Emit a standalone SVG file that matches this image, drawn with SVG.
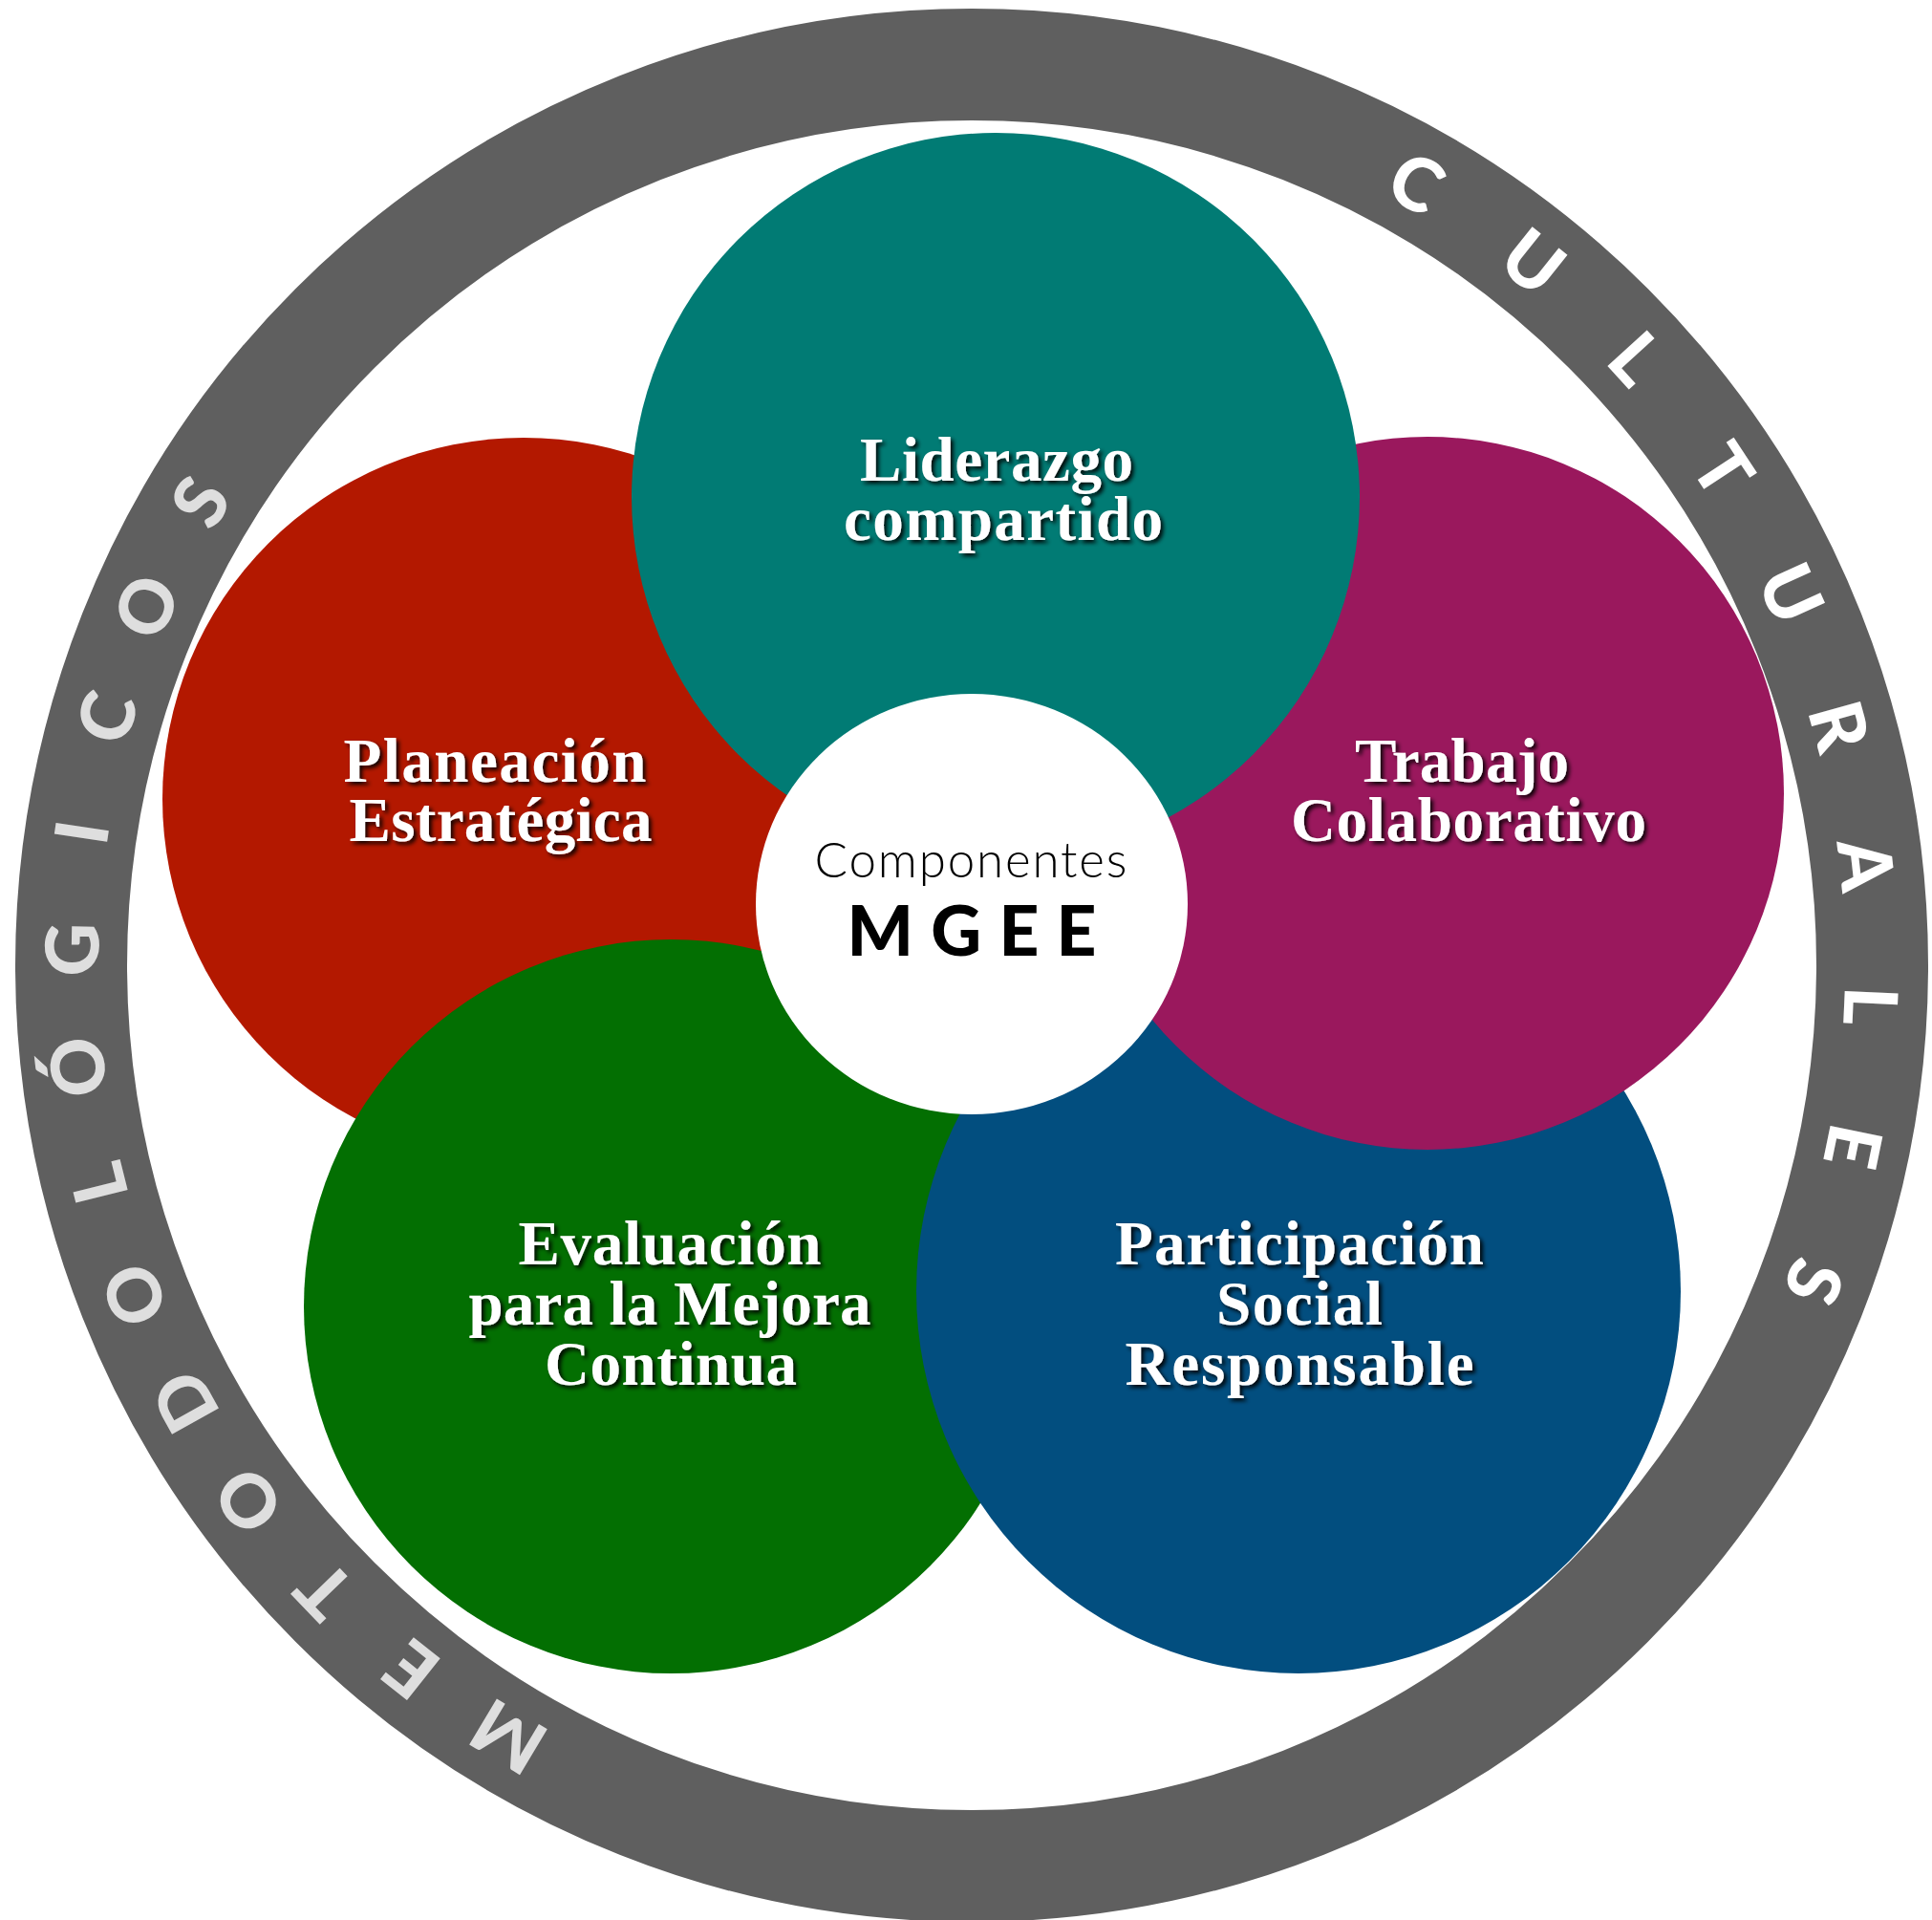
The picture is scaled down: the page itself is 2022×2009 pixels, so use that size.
<svg xmlns="http://www.w3.org/2000/svg" width="2022" height="2009" viewBox="0 0 2022 2009">
<defs>
<filter id="shadow" x="-20%" y="-40%" width="140%" height="180%">
<feDropShadow dx="3" dy="3" stdDeviation="2" flood-color="#000" flood-opacity="0.9"/>
</filter>
<style>
.lbl{font-family:"Liberation Serif","Times New Roman",serif;font-weight:bold;font-size:65px;fill:#fff;text-anchor:middle;filter:url(#shadow);}
.ringC{font-family:Lato,"Noto Sans",sans-serif;font-weight:900;font-size:77px;fill:#ffffff;text-anchor:middle;}
.ringM{font-family:Lato,"Noto Sans",sans-serif;font-weight:900;font-size:77px;fill:#dedede;text-anchor:middle;}
</style>
</defs>
<rect width="2022" height="2009" fill="#fff"/>
<g id="ring">
<circle cx="1017" cy="1010" r="942.5" fill="none" stroke="#5f5f5f" stroke-width="117"/>
<g class="ringC">
<text x="1017" y="96" transform="rotate(29.6 1017 1010)">C</text>
<text x="1017" y="96" transform="rotate(38.6 1017 1010)">U</text>
<text x="1017" y="96" transform="rotate(47.6 1017 1010)">L</text>
<text x="1017" y="96" transform="rotate(56.6 1017 1010)">T</text>
<text x="1017" y="96" transform="rotate(65.6 1017 1010)">U</text>
<text x="1017" y="96" transform="rotate(74.6 1017 1010)">R</text>
<text x="1017" y="96" transform="rotate(83.6 1017 1010)">A</text>
<text x="1017" y="96" transform="rotate(92.6 1017 1010)">L</text>
<text x="1017" y="96" transform="rotate(101.6 1017 1010)">E</text>
<text x="1017" y="96" transform="rotate(110.6 1017 1010)">S</text>
</g>
<g class="ringM">
<text x="1017" y="96" transform="rotate(211 1017 1010)">M</text>
<text x="1017" y="96" transform="rotate(218.5 1017 1010)">E</text>
<text x="1017" y="96" transform="rotate(226 1017 1010)">T</text>
<text x="1017" y="96" transform="rotate(233.5 1017 1010)">O</text>
<text x="1017" y="96" transform="rotate(241 1017 1010)">D</text>
<text x="1017" y="96" transform="rotate(248.5 1017 1010)">O</text>
<text x="1017" y="96" transform="rotate(256 1017 1010)">L</text>
<text x="1017" y="96" transform="rotate(263.5 1017 1010)">Ó</text>
<text x="1017" y="96" transform="rotate(271 1017 1010)">G</text>
<text x="1017" y="96" transform="rotate(278.5 1017 1010)">I</text>
<text x="1017" y="96" transform="rotate(286 1017 1010)">C</text>
<text x="1017" y="96" transform="rotate(293.5 1017 1010)">O</text>
<text x="1017" y="96" transform="rotate(301 1017 1010)">S</text>
</g>
</g>
<g id="connectors"/>
<g id="planeacion">
<circle cx="548" cy="836" r="378" fill="#b31800"/>
</g>
<g id="evaluacion">
<circle cx="702" cy="1367" r="384" fill="#036f02"/>
</g>
<g id="participacion">
<circle cx="1359" cy="1351" r="400" fill="#024e7f"/>
</g>
<g id="trabajo">
<circle cx="1494" cy="830" r="373" fill="#9a185d"/>
</g>
<g id="liderazgo">
<circle cx="1042" cy="520" r="381" fill="#017b74"/>
</g>
<g id="labels">
<text class="lbl" x="1043" y="503" textLength="286">Liderazgo</text>
<text class="lbl" x="1050" y="565" textLength="334">compartido</text>
<text class="lbl" x="518" y="818" textLength="317">Planeación</text>
<text class="lbl" x="524" y="880" textLength="317">Estratégica</text>
<text class="lbl" x="1530" y="818" textLength="224">Trabajo</text>
<text class="lbl" x="1537" y="880" textLength="372">Colaborativo</text>
<text class="lbl" x="701" y="1323" textLength="317">Evaluación</text>
<text class="lbl" x="701" y="1386" textLength="421">para la Mejora</text>
<text class="lbl" x="702" y="1449" textLength="264">Continua</text>
<text class="lbl" x="1360" y="1323" textLength="386">Participación</text>
<text class="lbl" x="1360" y="1386" textLength="174">Social</text>
<text class="lbl" x="1360" y="1449" textLength="365">Responsable</text>
</g>
<g id="center">
<ellipse cx="1017" cy="946" rx="226" ry="220" fill="#fff"/>
<text x="1016" y="918" font-family="Lato,'Noto Sans',sans-serif" font-weight="300" font-size="51" fill="#000" text-anchor="middle" textLength="327">Componentes</text>
<text x="1017" y="1000" font-family="Lato,'Noto Sans',sans-serif" font-weight="900" font-size="73" fill="#000" text-anchor="middle" textLength="261" lengthAdjust="spacing">MGEE</text>
</g>
</svg>
